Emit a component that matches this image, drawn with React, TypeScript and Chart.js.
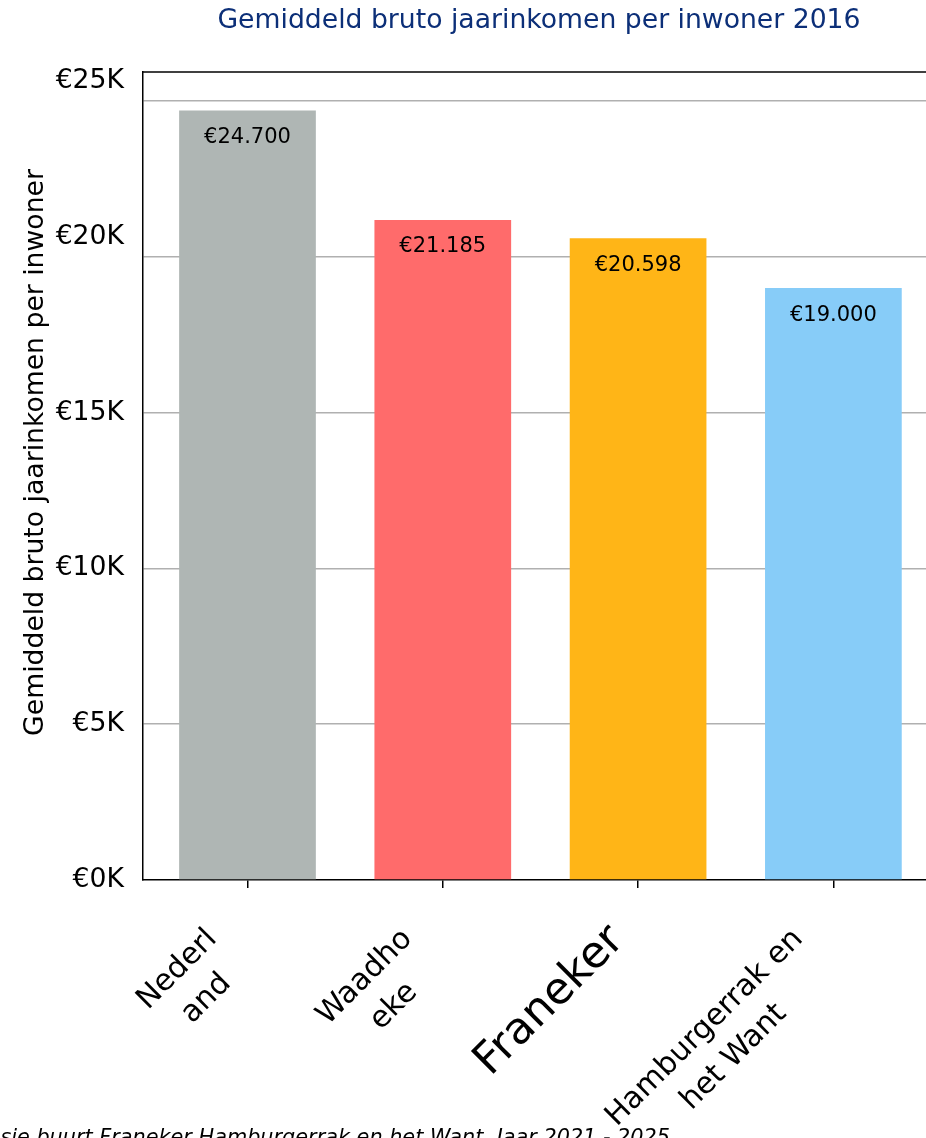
import { useEffect, useRef } from "react";
import { Chart, registerables } from "chart.js";

Chart.register(...registerables);

// ---------- data ----------
const categories = ["Nederl\nand", "Waadho\neke", "Franeker", "Hamburgerrak en\nhet Want"];
const values = [24700, 21185, 20598, 19000];
const barColors = ["#AFB6B4", "#FF6B6B", "#FFB517", "#87CCF8"];
const yTicks = [0, 5000, 10000, 15000, 20000, 25000];
const yTickLabels = ["€0K", "€5K", "€10K", "€15K", "€20K", "€25K"];
const yMax = 25935;
const chartTitle = "Gemiddeld bruto jaarinkomen per inwoner 2016";
const yAxisTitle = "Gemiddeld bruto jaarinkomen per inwoner";
const footerText = "sie buurt Franeker Hamburgerrak en het Want. Jaar 2021 - 2025";

// ---------- style ----------
const CW = 926;
const CH = 1138;
const FONT = "'DejaVu Sans'";
const yLabelShift = [0, 0, 0, 0, -20, -20];
const xLabelSize = [30, 30, 44, 30];

const formatEuro = (v: number) =>
  "€" + String(v).replace(/\B(?=(\d{3})+(?!\d))/g, ".");

const overlay = {
  id: "overlay",
  afterDraw(chart: any) {
    const ctx: CanvasRenderingContext2D = chart.ctx;
    const a = chart.chartArea;
    const xs = chart.scales.x;
    const ys = chart.scales.y;
    ctx.save();

    // top spine
    ctx.strokeStyle = "#000";
    ctx.lineWidth = 1.5;
    ctx.beginPath();
    ctx.moveTo(a.left, a.top);
    ctx.lineTo(a.right, a.top);
    ctx.stroke();

    // title
    ctx.fillStyle = "#0c2f78";
    ctx.font = `26.67px ${FONT}`;
    ctx.textAlign = "center";
    ctx.textBaseline = "alphabetic";
    ctx.fillText(chartTitle, 539, 28);

    // y axis title
    ctx.fillStyle = "#000";
    ctx.save();
    ctx.translate(43, 452.5);
    ctx.rotate(-Math.PI / 2);
    ctx.textAlign = "center";
    ctx.fillText(yAxisTitle, 0, 0);
    ctx.restore();

    // y tick labels
    ctx.font = `26.67px ${FONT}`;
    ctx.textAlign = "right";
    ctx.textBaseline = "middle";
    yTicks.forEach((v, i) => {
      ctx.fillText(yTickLabels[i], 124, ys.getPixelForValue(v) + yLabelShift[i]);
    });

    // value labels
    const meta = chart.getDatasetMeta(0);
    ctx.font = `21px ${FONT}`;
    ctx.textAlign = "center";
    ctx.textBaseline = "middle";
    meta.data.forEach((bar: any, i: number) => {
      ctx.fillText(formatEuro(values[i]), bar.x, bar.y + 27);
    });

    // x labels (rotated 45°, multi-line centered)
    categories.forEach((label, i) => {
      const fs = xLabelSize[i];
      const lines = label.split("\n");
      ctx.font = `${fs}px ${FONT}`;
      const Wd = Math.max(...lines.map((l) => ctx.measureText(l).width));
      const ls = fs * 1.37;
      const Hd = (lines.length - 1) * ls + fs * 1.16;
      const tx = xs.getPixelForValue(i);
      const ty = a.bottom + 38;
      const k = Math.SQRT1_2;
      let tlx = tx - k * (Wd + Hd);
      let tly = ty + k * Wd;
      if (lines.length > 1) {
        tlx += 8;
        tly += 6;
      }
      ctx.save();
      ctx.translate(tlx, tly);
      ctx.rotate(-Math.PI / 4);
      ctx.textAlign = "center";
      ctx.textBaseline = "alphabetic";
      lines.forEach((l, j) => ctx.fillText(l, Wd / 2, fs * 0.76 + j * ls));
      ctx.restore();
    });

    // footer
    ctx.font = `italic 20.8px ${FONT}`;
    ctx.textAlign = "right";
    ctx.textBaseline = "alphabetic";
    ctx.fillText(footerText, 670, 1143.5);

    ctx.restore();
  },
};

export default function App() {
  const ref = useRef<HTMLCanvasElement | null>(null);
  useEffect(() => {
    if (!ref.current) return;
    const chart = new Chart(ref.current, {
      type: "bar",
      data: {
        datasets: [
          {
            data: values.map((v, i) => ({ x: i, y: v })),
            backgroundColor: barColors,
            borderWidth: 0,
            barPercentage: 0.7,
            categoryPercentage: 1,
          },
        ],
      },
      options: {
        animation: false,
        responsive: false,
        devicePixelRatio: 1,
        layout: { padding: { left: 143, top: 72, right: 0, bottom: 250 } },
        plugins: { legend: { display: false }, tooltip: { enabled: false }, title: { display: false } },
        scales: {
          x: {
            type: "linear",
            offset: false,
            min: -0.535,
            max: -0.535 + (926 - 143) / 195.3,
            z: 1,
            afterBuildTicks: (s: any) => {
              s.ticks = categories.map((_, i) => ({ value: i }));
            },
            ticks: { display: false, includeBounds: false, stepSize: 1 },
            grid: {
              display: true,
              offset: false,
              drawOnChartArea: false,
              drawTicks: true,
              tickLength: 8,
              color: "#000",
              lineWidth: 1.5,
            },
            border: { display: true, color: "#000", width: 1.5 },
          },
          y: {
            min: 0,
            max: yMax,
            z: 1,
            afterBuildTicks: (s: any) => {
              s.ticks = yTicks.map((v) => ({ value: v }));
            },
            ticks: { display: false, includeBounds: false, stepSize: 5000 },
            grid: {
              display: true,
              drawTicks: false,
              color: (c: any) => (c.tick && c.tick.value === 0 ? "rgba(0,0,0,0)" : "#b0b0b0"),
              lineWidth: 1.6,
            },
            border: { display: true, color: "#000", width: 1.5 },
          },
        },
      },
      plugins: [overlay],
    } as any);
    return () => chart.destroy();
  }, []);
  return (
    <div style={{ position: "absolute", left: 0, top: 0, width: CW, height: CH, overflow: "hidden", background: "#fff" }}>
      <canvas ref={ref} width={CW} height={CH} style={{ width: CW, height: CH, display: "block" }} />
    </div>
  );
}
